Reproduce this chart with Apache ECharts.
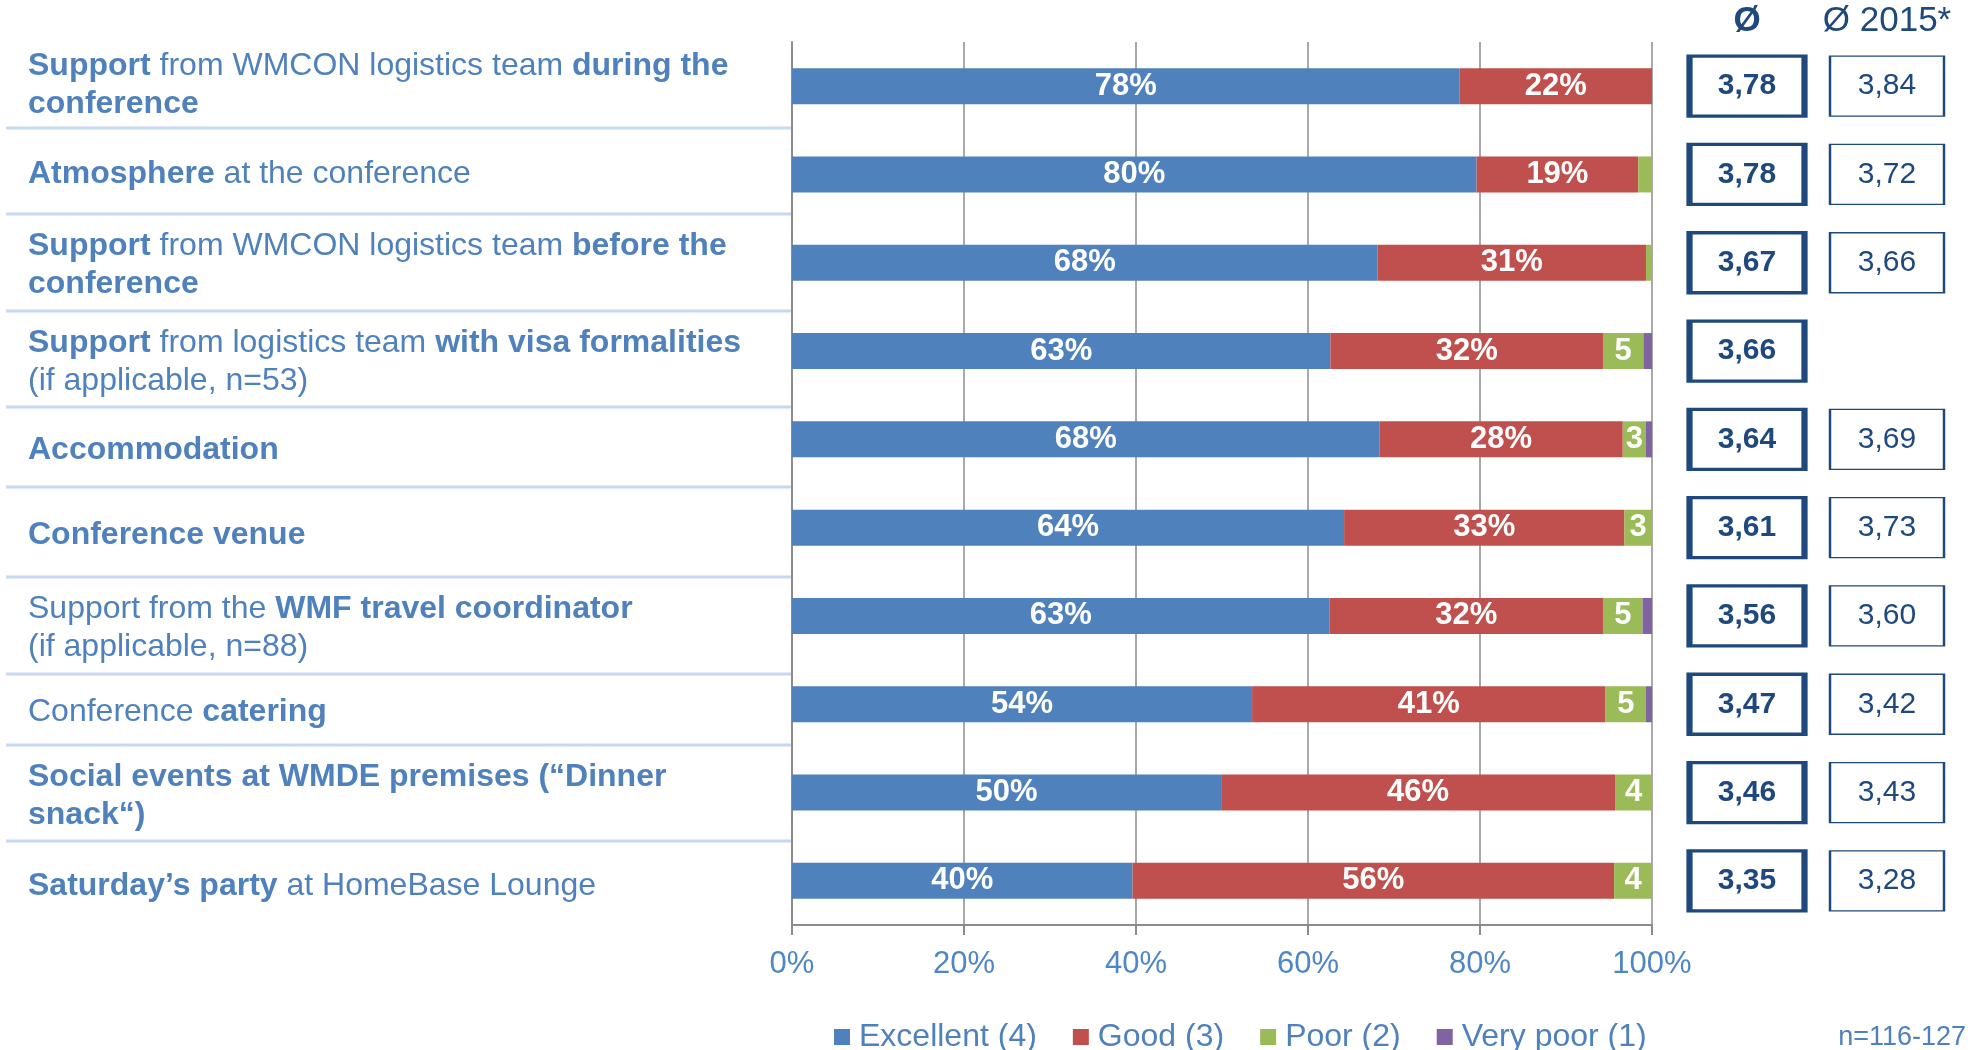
<!DOCTYPE html>
<html><head><meta charset="utf-8">
<script src="https://cdn.jsdelivr.net/npm/echarts@6/dist/echarts.min.js"></script>
<style>html,body{margin:0;padding:0;background:#fff}#c{width:1981px;height:1050px}</style>
</head><body><div id="c"></div>
<script>
// ---- data ----
const categories = [
  '{b|Support}{n| from WMCON logistics team }{b|during the}\n{b|conference}',
  '{b|Atmosphere}{n| at the conference}',
  '{b|Support}{n| from WMCON logistics team }{b|before the}\n{b|conference}',
  '{b|Support}{n| from logistics team }{b|with visa formalities}\n{n|(if applicable, n=53)}',
  '{b|Accommodation}',
  '{b|Conference venue}',
  '{n|Support from the }{b|WMF travel coordinator}\n{n|(if applicable, n=88)}',
  '{n|Conference }{b|catering}',
  '{b|Social events at WMDE premises (\u201cDinner}\n{b|snack\u201c)}',
  '{b|Saturday\u2019s party}{n| at HomeBase Lounge}'
];
const seriesNames = ['Excellent (4)', 'Good (3)', 'Poor (2)', 'Very poor (1)'];
const excellent = [77.6, 79.6, 68.1, 62.6, 68.3, 64.2, 62.5, 53.5, 49.9, 39.6];
const good      = [22.4, 18.8, 31.2, 31.7, 28.3, 32.6, 31.8, 41.1, 45.8, 56.0];
const poor      = [0,    1.6,  0.7,  4.7,  2.7,  3.2,  4.6,  4.7,  4.3,  4.4];
const veryPoor  = [0,    0,    0,    1.0,  0.7,  0,    1.1,  0.7,  0,    0];
const avgNow    = [3.78, 3.78, 3.67, 3.66, 3.64, 3.61, 3.56, 3.47, 3.46, 3.35];
const avg2015   = [3.84, 3.72, 3.66, null, 3.69, 3.73, 3.60, 3.42, 3.43, 3.28];
const avgColumns = ['\u00d8', '\u00d8 2015*'];
const sampleNote = 'n=116-127';

// ---- layout of the label table (row boundaries of the left-hand text column) ----
const rowBounds = [36, 128, 214, 311, 407, 487, 577, 674, 745, 841, 925];

// ---- styles ----
const FONT = '"Liberation Sans", Arial, sans-serif';
const BLUE_TXT = '#4f81bd';
const NAVY = '#1f497d';
const colors = ['#4f81bd', '#c0504d', '#9bbb59', '#8064a2'];
const fmtComma = v => v.toFixed(2).replace('.', ',');

const chart = echarts.init(document.getElementById('c'));
const barLabel = (kind) => ({
  show: kind < 3,
  position: 'inside',
  color: '#fff',
  fontFamily: FONT,
  fontWeight: 'bold',
  fontSize: 31,
  formatter: p => {
    const v = p.value;
    if (kind < 2) return v >= 5 ? Math.round(v) + '%' : '';
    if (kind === 2) return v >= 2.5 ? String(Math.round(v)) : '';
    return '';
  }
});
const valueSets = [excellent, good, poor, veryPoor];
const barSeries = valueSets.map((arr, k) => ({
  name: seriesNames[k],
  type: 'bar',
  stack: 'total',
  xAxisIndex: 0, yAxisIndex: 0,
  barWidth: 36,
  data: arr,
  itemStyle: { color: colors[k] },
  label: barLabel(k),
  emphasis: { disabled: true }
}));

const boxSeries = (arr, col, bold) => ({
  type: 'scatter',
  xAxisIndex: 1, yAxisIndex: 1,
  symbol: 'rect',
  symbolSize: bold ? [115, 60] : [114, 60],
  data: arr.map((v, i) => v == null ? null : [col, i, v]).filter(d => d),
  itemStyle: { color: '#fff', borderColor: NAVY, borderWidth: bold ? 4.5 : 1.8, opacity: 1 },
  label: {
    show: true, position: 'inside', color: NAVY, fontFamily: FONT,
    fontWeight: bold ? 'bold' : 'normal', fontSize: 30,
    formatter: p => fmtComma(p.value[2])
  },
  emphasis: { disabled: true },
  silent: true
});

const labelRich = {
  b: { fontWeight: 'bold', fontSize: 32, fill: BLUE_TXT, lineHeight: 38, fontFamily: FONT },
  n: { fontWeight: 'normal', fontSize: 32, fill: BLUE_TXT, lineHeight: 38, fontFamily: FONT }
};
const labelTexts = categories.map((t, i) => ({
  type: 'text', silent: true,
  x: 28, y: (rowBounds[i] + rowBounds[i + 1]) / 2 + 3,
  style: { text: t, rich: labelRich, align: 'left', verticalAlign: 'middle', fontFamily: FONT }
}));
const separators = rowBounds.slice(1, -1).map(y => ({
  type: 'line', silent: true, z: 1,
  shape: { x1: 6, y1: y, x2: 791, y2: y },
  style: { stroke: '#c6d9f1', lineWidth: 3 }
}));

chart.setOption({
  animation: false,
  textStyle: { fontFamily: FONT },
  grid: [
    { left: 792, right: 329, top: 42, bottom: 125 },
    { left: 1677, right: 24, top: 42, bottom: 125 }
  ],
  legend: {
    data: seriesNames,
    left: 829, top: 1016,
    icon: 'rect', itemWidth: 16, itemHeight: 16, itemGap: 36,
    textStyle: { color: BLUE_TXT, fontSize: 32, fontFamily: FONT, padding: [0, 0, 0, 4] },
    selectedMode: false
  },
  xAxis: [
    {
      gridIndex: 0, type: 'value', min: 0, max: 100, interval: 20,
      axisLine: { show: true, lineStyle: { color: '#8c8c8c', width: 2 } },
      axisTick: { show: true, length: 10, lineStyle: { color: '#8c8c8c', width: 2 } },
      splitLine: { show: true, lineStyle: { color: '#8c8c8c', width: 1.5 } },
      axisLabel: { formatter: '{value}%', color: '#4f86c6', fontSize: 31, margin: 24, fontFamily: FONT }
    },
    {
      gridIndex: 1, type: 'category', data: avgColumns, position: 'top',
      axisLine: { show: false }, axisTick: { show: false }, splitLine: { show: false },
      axisLabel: {
        margin: 3, color: NAVY, fontFamily: FONT,
        formatter: (v, i) => i === 0 ? '{b|' + v + '}' : '{n|' + v + '}',
        rich: {
          b: { fontWeight: 'bold', fontSize: 35, color: NAVY, fontFamily: FONT },
          n: { fontWeight: 'normal', fontSize: 35, color: NAVY, fontFamily: FONT }
        }
      }
    }
  ],
  yAxis: [
    {
      gridIndex: 0, type: 'category', data: categories, inverse: true,
      axisLine: { show: true, lineStyle: { color: '#8c8c8c', width: 2 } },
      axisTick: { show: false },
      axisLabel: { show: false }
    },
    {
      gridIndex: 1, type: 'category', data: categories, inverse: true,
      axisLine: { show: false }, axisTick: { show: false }, axisLabel: { show: false }, splitLine: { show: false }
    }
  ],
  graphic: [
    ...separators,
    ...labelTexts,
    {
      type: 'text', right: 15, top: 1024,
      style: { text: sampleNote, fontSize: 27, fill: BLUE_TXT, fontFamily: FONT }
    }
  ],
  series: [
    ...barSeries,
    boxSeries(avgNow, 0, true),
    boxSeries(avg2015, 1, false)
  ]
});
</script>
</body></html>
